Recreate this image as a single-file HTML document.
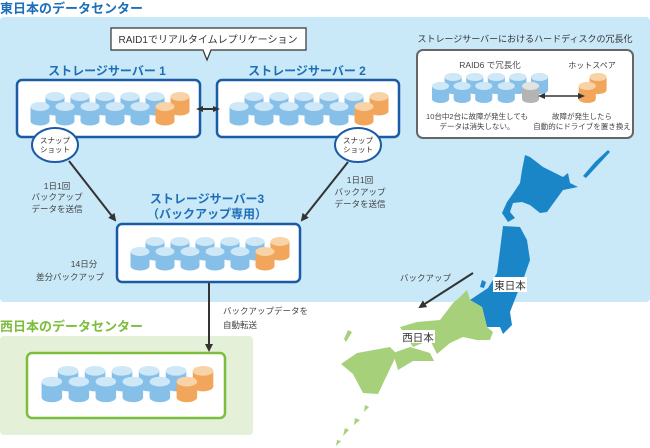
<!DOCTYPE html>
<html><head><meta charset="utf-8"><style>
html,body{margin:0;padding:0;background:#fff;}
svg{display:block;font-family:"Liberation Sans","Noto Sans CJK JP",sans-serif;}
</style></head><body>
<svg width="650" height="448" viewBox="0 0 650 448" xmlns="http://www.w3.org/2000/svg">
<defs>
<g id="cb"><path d="M0 4.5 V19 A9.5 4.5 0 0 0 19 19 V4.5 Z" fill="#86bfe8"/><ellipse cx="9.5" cy="4.5" rx="9.5" ry="4.5" fill="#cfe8f8"/></g>
<g id="co"><path d="M0 4.5 V19 A9.5 4.5 0 0 0 19 19 V4.5 Z" fill="#f2a65c"/><ellipse cx="9.5" cy="4.5" rx="9.5" ry="4.5" fill="#f9d3a8"/></g>
<g id="cg"><path d="M0 4.5 V19 A9.5 4.5 0 0 0 19 19 V4.5 Z" fill="#b4b4b4"/><ellipse cx="9.5" cy="4.5" rx="9.5" ry="4.5" fill="#e2e2e2"/></g>
<g id="row">
<use href="#cb" x="28.5" y="12"/><use href="#cb" x="53.5" y="12"/><use href="#cb" x="78.5" y="12"/><use href="#cb" x="103.5" y="12"/><use href="#cb" x="128.5" y="12"/><use href="#co" x="153.5" y="12"/>
<use href="#cb" x="13.5" y="22"/><use href="#cb" x="38.5" y="22"/><use href="#cb" x="63.5" y="22"/><use href="#cb" x="88.5" y="22"/><use href="#cb" x="113.5" y="22"/><use href="#co" x="138.5" y="22"/>
</g>
<marker id="ah" markerWidth="8" markerHeight="8" refX="6" refY="4" orient="auto" markerUnits="userSpaceOnUse"><path d="M0 0 L8 4 L0 8 Z" fill="#333"/></marker>
<marker id="ahs" markerWidth="8" markerHeight="8" refX="4" refY="4" orient="auto-start-reverse" markerUnits="userSpaceOnUse"><path d="M0 1 L7 4 L0 7 Z" fill="#333"/></marker>
</defs>

<text x="0" y="13" font-size="13" font-weight="bold" fill="#1d6fb8">東日本のデータセンター</text>
<rect x="0" y="17" width="650" height="285" rx="4" fill="#c9e8f8"/>

<text x="0" y="331" font-size="13" font-weight="bold" fill="#7cbd3c">西日本のデータセンター</text>
<rect x="0" y="336" width="253" height="99" rx="4" fill="#e4f1d8"/>

<!-- Japan map -->
<g fill="#1a86c8">
<path d="M525 155 L530 157 L543 167 L563 177 L568 173 L570 183 L578 187 L563 190 L547 212 L540 213 L530 205 L522 202 L513 203 L510 212 L515 218 L508 222 L502 213 L507 202 L512 195 L520 183 L522 170 Z"/>
<path d="M583 176 L595 162 L608 150 L610 152 L598 165 L586 178 Z"/>
<path d="M503 226 L520 227 L527 240 L530 260 L523 280 L517 294 L510 312 L512 325 L503 334 L500 327 L487 327 L482 307 L470 300 L488 288 L497 273 L500 250 Z"/>
<path d="M482 280 L486 282 L484 288 L480 287 Z"/>
</g>
<g fill="#a6d17a">
<path d="M467 290 L470 300 L482 307 L487 327 L493 332 L490 340 L477 340 L463 337 L450 343 L437 354 L430 340 L413 347 L400 327 L417 322 L440 320 L453 303 L460 297 Z"/>
<path d="M393 353 L410 347 L430 353 L434 361 L413 361 L398 370 Z"/>
<path d="M357 353 L390 347 L397 354 L388 373 L378 394 L363 393 L353 374 L341 364 Z"/>
<path d="M348 330 L352 332 L346 342 L344 339 Z"/>
<path d="M365 405 L369 407 L364 412 Z"/><path d="M355 418 L360 420 L354 425 Z"/><path d="M345 428 L349 430 L343 436 Z"/><path d="M337 440 L341 441 L336 446 Z"/>
</g>
<rect x="493" y="277" width="34" height="15" fill="#fff"/>
<text x="510" y="289" font-size="10.5" fill="#333" text-anchor="middle">東日本</text>
<rect x="401" y="330" width="34" height="13" fill="#fff"/>
<text x="418" y="341" font-size="10.5" fill="#333" text-anchor="middle">西日本</text>
<line x1="473" y1="273" x2="420" y2="307" stroke="#333" stroke-width="2" marker-end="url(#ah)"/>
<text x="400" y="281" font-size="8.5" fill="#444">バックアップ</text>

<path d="M111 28 H306 V50 H211 L207 60 L203 50 H111 Z" fill="#fff" stroke="#333" stroke-width="1.2"/>
<text x="208" y="43" font-size="10" fill="#333" text-anchor="middle">RAID1でリアルタイムレプリケーション</text>

<g font-size="12" font-weight="bold" fill="#1d6fb8" text-anchor="middle">
<text x="107" y="75">ストレージサーバー 1</text>
<text x="307" y="75">ストレージサーバー 2</text>
<text x="207" y="203">ストレージサーバー3</text>
<text x="207" y="218">（バックアップ専用）</text>
</g>

<rect x="17" y="80" width="183" height="57" rx="5" fill="#fff" stroke="#1a5ba6" stroke-width="2.5"/>
<use href="#row" x="17" y="80"/>
<rect x="217" y="80" width="182" height="57" rx="5" fill="#fff" stroke="#1a5ba6" stroke-width="2.5"/>
<use href="#row" x="216" y="80"/>
<rect x="117" y="224" width="183" height="58" rx="5" fill="#fff" stroke="#1a5ba6" stroke-width="2.5"/>
<use href="#row" x="117" y="225"/>
<rect x="27" y="353" width="198" height="65" rx="5" fill="#fff" stroke="#7cbd3c" stroke-width="2.5"/>
<g transform="translate(27,353) scale(1.08)"><use href="#row"/></g>

<line x1="199" y1="109" x2="217" y2="109" stroke="#333" stroke-width="2" marker-start="url(#ahs)" marker-end="url(#ahs)"/>

<ellipse cx="55" cy="145" rx="23" ry="17" fill="#fff" stroke="#1a5ba6" stroke-width="2"/>
<text x="55" y="143" font-size="7.5" fill="#333" text-anchor="middle">スナップ</text>
<text x="55" y="152" font-size="7.5" fill="#333" text-anchor="middle">ショット</text>
<ellipse cx="358" cy="145" rx="23" ry="17" fill="#fff" stroke="#1a5ba6" stroke-width="2"/>
<text x="358" y="143" font-size="7.5" fill="#333" text-anchor="middle">スナップ</text>
<text x="358" y="152" font-size="7.5" fill="#333" text-anchor="middle">ショット</text>

<line x1="69" y1="161" x2="115" y2="220" stroke="#333" stroke-width="2" marker-end="url(#ah)"/>
<line x1="348" y1="162" x2="302" y2="220" stroke="#333" stroke-width="2" marker-end="url(#ah)"/>
<line x1="209" y1="283" x2="209" y2="350" stroke="#333" stroke-width="2" marker-end="url(#ah)"/>

<g font-size="8.5" fill="#444" text-anchor="middle">
<text x="57" y="189">1日1回</text><text x="57" y="200">バックアップ</text><text x="57" y="212">データを送信</text>
<text x="360" y="183">1日1回</text><text x="360" y="195">バックアップ</text><text x="360" y="207">データを送信</text>
<text x="84" y="267">14日分</text><text x="70" y="280">差分バックアップ</text>
</g>
<g font-size="8.5" fill="#444">
<text x="223" y="314">バックアップデータを</text><text x="223" y="328">自動転送</text>
</g>

<text x="525" y="42" font-size="9" fill="#333" text-anchor="middle">ストレージサーバーにおけるハードディスクの冗長化</text>
<rect x="417" y="50" width="216" height="88" rx="6" fill="#fff" stroke="#666" stroke-width="2"/>
<text x="490" y="68" font-size="8.5" fill="#444" text-anchor="middle">RAID6 で冗長化</text>
<text x="592" y="68" font-size="8" fill="#444" text-anchor="middle">ホットスペア</text>
<g transform="scale(0.9)">
<use href="#cb" x="494" y="81"/><use href="#cb" x="518" y="81"/><use href="#cb" x="542" y="81"/><use href="#cb" x="566" y="81"/><use href="#cb" x="590" y="81"/>
<use href="#cb" x="480" y="91"/><use href="#cb" x="504" y="91"/><use href="#cb" x="528" y="91"/><use href="#cb" x="553" y="91"/><use href="#cg" x="580" y="91"/>
<use href="#co" x="655" y="81"/><use href="#co" x="643" y="91"/>
</g>
<line x1="541" y1="96" x2="582" y2="96" stroke="#333" stroke-width="1.5" marker-start="url(#ahs)" marker-end="url(#ahs)"/>
<g font-size="7.5" fill="#444" text-anchor="middle">
<text x="477" y="119">10台中2台に故障が発生しても</text><text x="477" y="129">データは消失しない。</text>
<text x="582" y="119">故障が発生したら</text><text x="582" y="129">自動的にドライブを置き換え</text>
</g>
</svg>
</body></html>
